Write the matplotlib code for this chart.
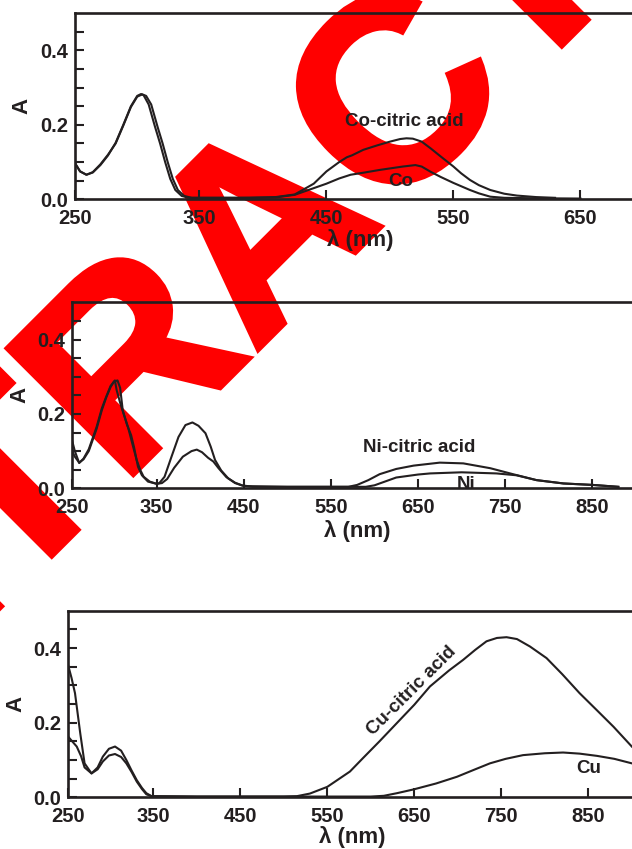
import numpy as np
import matplotlib
matplotlib.use("Agg")
import matplotlib.pyplot as plt
from matplotlib import patheffects

plt.rcParams['font.family'] = ['Liberation Sans', 'DejaVu Sans']
plt.rcParams['font.weight'] = 'bold'

# ---------------- data ----------------
# Panel 1: Co
co_cit_wl = [252, 256, 261, 266, 272, 278, 284, 290, 296, 301, 304, 306, 310, 315, 319, 323, 327, 331,
             336, 342, 360, 390, 410, 425, 440, 450, 460, 466, 470, 479, 490, 500, 508, 513, 518, 525,
             532, 540, 550, 556, 563, 570, 579, 590, 600, 615, 630]
co_cit_A = [0.097, 0.075, 0.066, 0.072, 0.092, 0.118, 0.152, 0.200, 0.250, 0.278, 0.283, 0.280, 0.255,
            0.195, 0.150, 0.100, 0.055, 0.025, 0.009, 0.004, 0.004, 0.004, 0.006, 0.013, 0.042, 0.075,
            0.100, 0.113, 0.118, 0.133, 0.145, 0.155, 0.162, 0.164, 0.163, 0.155, 0.137, 0.115, 0.088,
            0.070, 0.052, 0.038, 0.025, 0.015, 0.010, 0.006, 0.004]

co_wl = [252, 256, 261, 266, 272, 278, 284, 290, 296, 301, 305, 308, 312, 317, 321, 325, 329, 333,
         338, 344, 380, 410, 425, 440, 450, 460, 469, 480, 492, 500, 510, 520, 525, 532, 540, 545,
         550, 563, 570, 579, 590, 610, 650]
co_A = [0.097, 0.075, 0.066, 0.073, 0.094, 0.120, 0.150, 0.198, 0.248, 0.276, 0.282, 0.278, 0.255,
        0.195, 0.150, 0.100, 0.055, 0.025, 0.009, 0.004, 0.004, 0.005, 0.012, 0.030, 0.042, 0.056,
        0.066, 0.072, 0.079, 0.083, 0.088, 0.092, 0.088, 0.074, 0.060, 0.052, 0.044, 0.025, 0.016,
        0.007, 0.004, 0.003, 0.002]

# Panel 2: Ni
ni_cit_wl = [252, 256, 261, 266, 272, 281, 287, 292, 297, 302, 304, 308, 312, 317, 322, 327, 331,
             335, 342, 350, 353, 359, 367, 375, 383, 391, 398, 406, 412, 417, 424, 432, 440, 448, 460,
             570, 580, 593, 606, 625, 645, 675, 702, 733, 759, 786, 817, 851, 880]
ni_cit_A = [0.136, 0.100, 0.068, 0.080, 0.105, 0.165, 0.215, 0.246, 0.275, 0.290, 0.264, 0.230, 0.200,
            0.165, 0.120, 0.076, 0.050, 0.031, 0.018, 0.012, 0.014, 0.031, 0.085, 0.138, 0.170,
            0.177, 0.168, 0.148, 0.112, 0.076, 0.048, 0.027, 0.015, 0.008, 0.004, 0.004, 0.009, 0.022,
            0.038, 0.052, 0.061, 0.069, 0.067, 0.054, 0.038, 0.022, 0.013, 0.009, 0.004]

ni_wl = [252, 256, 261, 266, 272, 281, 287, 292, 297, 301, 305, 308, 311, 316, 320.6, 324, 328.5, 333,
         340, 350, 356, 362, 370, 380, 390, 396, 402, 409, 415, 421, 430, 440, 450, 500, 590, 600, 625,
         650, 664, 700, 740, 763, 786, 817, 851, 880]
ni_A = [0.105, 0.085, 0.069, 0.078, 0.100, 0.160, 0.210, 0.244, 0.272, 0.287, 0.290, 0.270, 0.210,
        0.170, 0.143, 0.110, 0.058, 0.035, 0.018, 0.012, 0.014, 0.025, 0.055, 0.085, 0.100, 0.104,
        0.097, 0.082, 0.072, 0.054, 0.030, 0.014, 0.006, 0.004, 0.004, 0.008, 0.029, 0.037, 0.040,
        0.043, 0.040, 0.035, 0.022, 0.013, 0.009, 0.004]

# Panel 3: Cu
cu_cit_wl = [252, 256, 260, 266, 271, 279, 286, 292, 299, 306, 313, 319, 325, 331, 337, 342, 348, 400,
             500, 515, 530, 550, 576, 591, 610, 630, 650, 668, 690, 706, 720, 733, 745, 756, 768, 783,
             802, 820, 840, 860, 879, 900]
cu_cit_A = [0.355, 0.320, 0.279, 0.172, 0.091, 0.064, 0.080, 0.109, 0.130, 0.136, 0.125, 0.100, 0.072,
            0.046, 0.025, 0.011, 0.003, 0.002, 0.002, 0.003, 0.010, 0.028, 0.069, 0.105, 0.150, 0.199,
            0.248, 0.297, 0.340, 0.368, 0.395, 0.418, 0.427, 0.429, 0.424, 0.404, 0.373, 0.330, 0.279,
            0.233, 0.189, 0.136]

cu_wl = [252, 256, 262, 267, 271, 279, 286, 292, 299, 306, 313, 319, 325, 331, 337, 342, 348, 400, 600,
         615, 630, 649, 675, 699, 720, 737, 755, 775, 800, 821, 840, 860, 880, 900]
cu_A = [0.163, 0.152, 0.136, 0.110, 0.080, 0.064, 0.075, 0.096, 0.112, 0.116, 0.108, 0.091, 0.068,
        0.042, 0.022, 0.008, 0.003, 0.002, 0.002, 0.004, 0.011, 0.021, 0.037, 0.055, 0.075, 0.091,
        0.103, 0.113, 0.118, 0.120, 0.117, 0.111, 0.103, 0.091]

x_labels_1 = ['250', '350', '450', '550', '650']
x_labels_23 = ['250', '350', '450', '550', '650', '750', '850']

# ---------------- figure ----------------
W, H = 632, 849
fig = plt.figure(figsize=(W / 100, H / 100), dpi=100)
ink = '#231f20'

def make_axes(left, top, bottom, xl, xr, ticks, labels):
    ax = fig.add_axes([left / W, 1 - bottom / H, (W - left) / W, (bottom - top) / H])
    ax.set_facecolor('none')
    ax.set_xlim(xl, xr)
    ax.set_ylim(0, 0.5)
    ax.spines['right'].set_visible(False)
    for s in ('left', 'top', 'bottom'):
        ax.spines[s].set_linewidth(1.9)
        ax.spines[s].set_color(ink)
    ax.set_xticks([xl] + ticks[1:])
    ax.set_xticklabels(labels)
    yt = np.round(np.arange(0, 0.5, 0.05), 2)
    ax.set_yticks(yt)
    ax.set_yticklabels(['0.0' if v == 0 else ('0.2' if v == 0.2 else ('0.4' if v == 0.4 else '')) for v in yt])
    ax.tick_params(direction='in', length=6.5, width=1.5, color=ink, labelsize=14.5,
                   labelcolor=ink)
    ax.tick_params(axis='y', pad=5)
    ax.tick_params(axis='x', pad=7)
    for t in ax.get_xticklabels() + ax.get_yticklabels():
        t.set_fontweight('bold')
    return ax

lw = 1.5
# Panel 1
ax1 = make_axes(75, 13.3, 199.3, 252, 252 + (W - 75) / 1.27, [250, 350, 450, 550, 650], x_labels_1)
ax1.plot(co_cit_wl, co_cit_A, color=ink, lw=lw)
ax1.plot(co_wl, co_A, color=ink, lw=lw)
ax1.text(511, 0.208, 'Co-citric acid', ha='center', va='center', fontsize=13.5, fontweight='bold', color=ink)
ax1.text(508.7, 0.049, 'Co', ha='center', va='center', fontsize=13.5, fontweight='bold', color=ink)

# Panel 2
ax2 = make_axes(71.7, 302.3, 488.3, 252.4, 252.4 + (W - 71.7) / 0.871,
                [250, 350, 450, 550, 650, 750, 850], x_labels_23)
ax2.plot(ni_cit_wl, ni_cit_A, color=ink, lw=lw)
ax2.plot(ni_wl, ni_A, color=ink, lw=lw)
ax2.text(651, 0.109, 'Ni-citric acid', ha='center', va='center', fontsize=13.5, fontweight='bold', color=ink)
ax2.text(705.7, 0.0115, 'Ni', ha='center', va='center', fontsize=13.5, fontweight='bold', color=ink)

# Panel 3
ax3 = make_axes(68.3, 610.7, 797.3, 252.3, 252.3 + (W - 68.3) / 0.870,
                [250, 350, 450, 550, 650, 750, 850], x_labels_23)
ax3.plot(cu_cit_wl, cu_cit_A, color=ink, lw=lw)
ax3.plot(cu_wl, cu_A, color=ink, lw=lw)
ax3.text(647, 0.286, 'Cu-citric acid', ha='center', va='center', rotation=45,
         rotation_mode='anchor', fontsize=13.5, fontweight='bold', color=ink)
ax3.text(850.8, 0.077, 'Cu', ha='center', va='center', fontsize=13.5, fontweight='bold', color=ink)

# axis labels
for ax, ylab, xlab in [(ax1, (22, 106), (360, 240)), (ax2, (20, 395), (357, 531)), (ax3, (16, 704), (352, 837))]:
    ax.set_ylabel('A', fontsize=16, fontweight='bold', color=ink, va='center')
    ax.yaxis.set_label_coords(ylab[0] / W, 1 - ylab[1] / H, transform=fig.transFigure)
    ax.set_xlabel('λ (nm)', fontsize=16, fontweight='bold', color=ink, va='center')
    ax.xaxis.set_label_coords(xlab[0] / W, 1 - xlab[1] / H, transform=fig.transFigure)

# watermark
fig.text(320 / W, 1 - 288 / H, 'RETRACTED', ha='center', va='baseline', rotation=45,
         rotation_mode='anchor', fontsize=187, fontweight='bold', color='#ff0000', zorder=-10,
         path_effects=[patheffects.withStroke(linewidth=3.5, foreground='#ff0000',
                                              joinstyle='miter')])

fig.savefig('out.png', dpi=100)
